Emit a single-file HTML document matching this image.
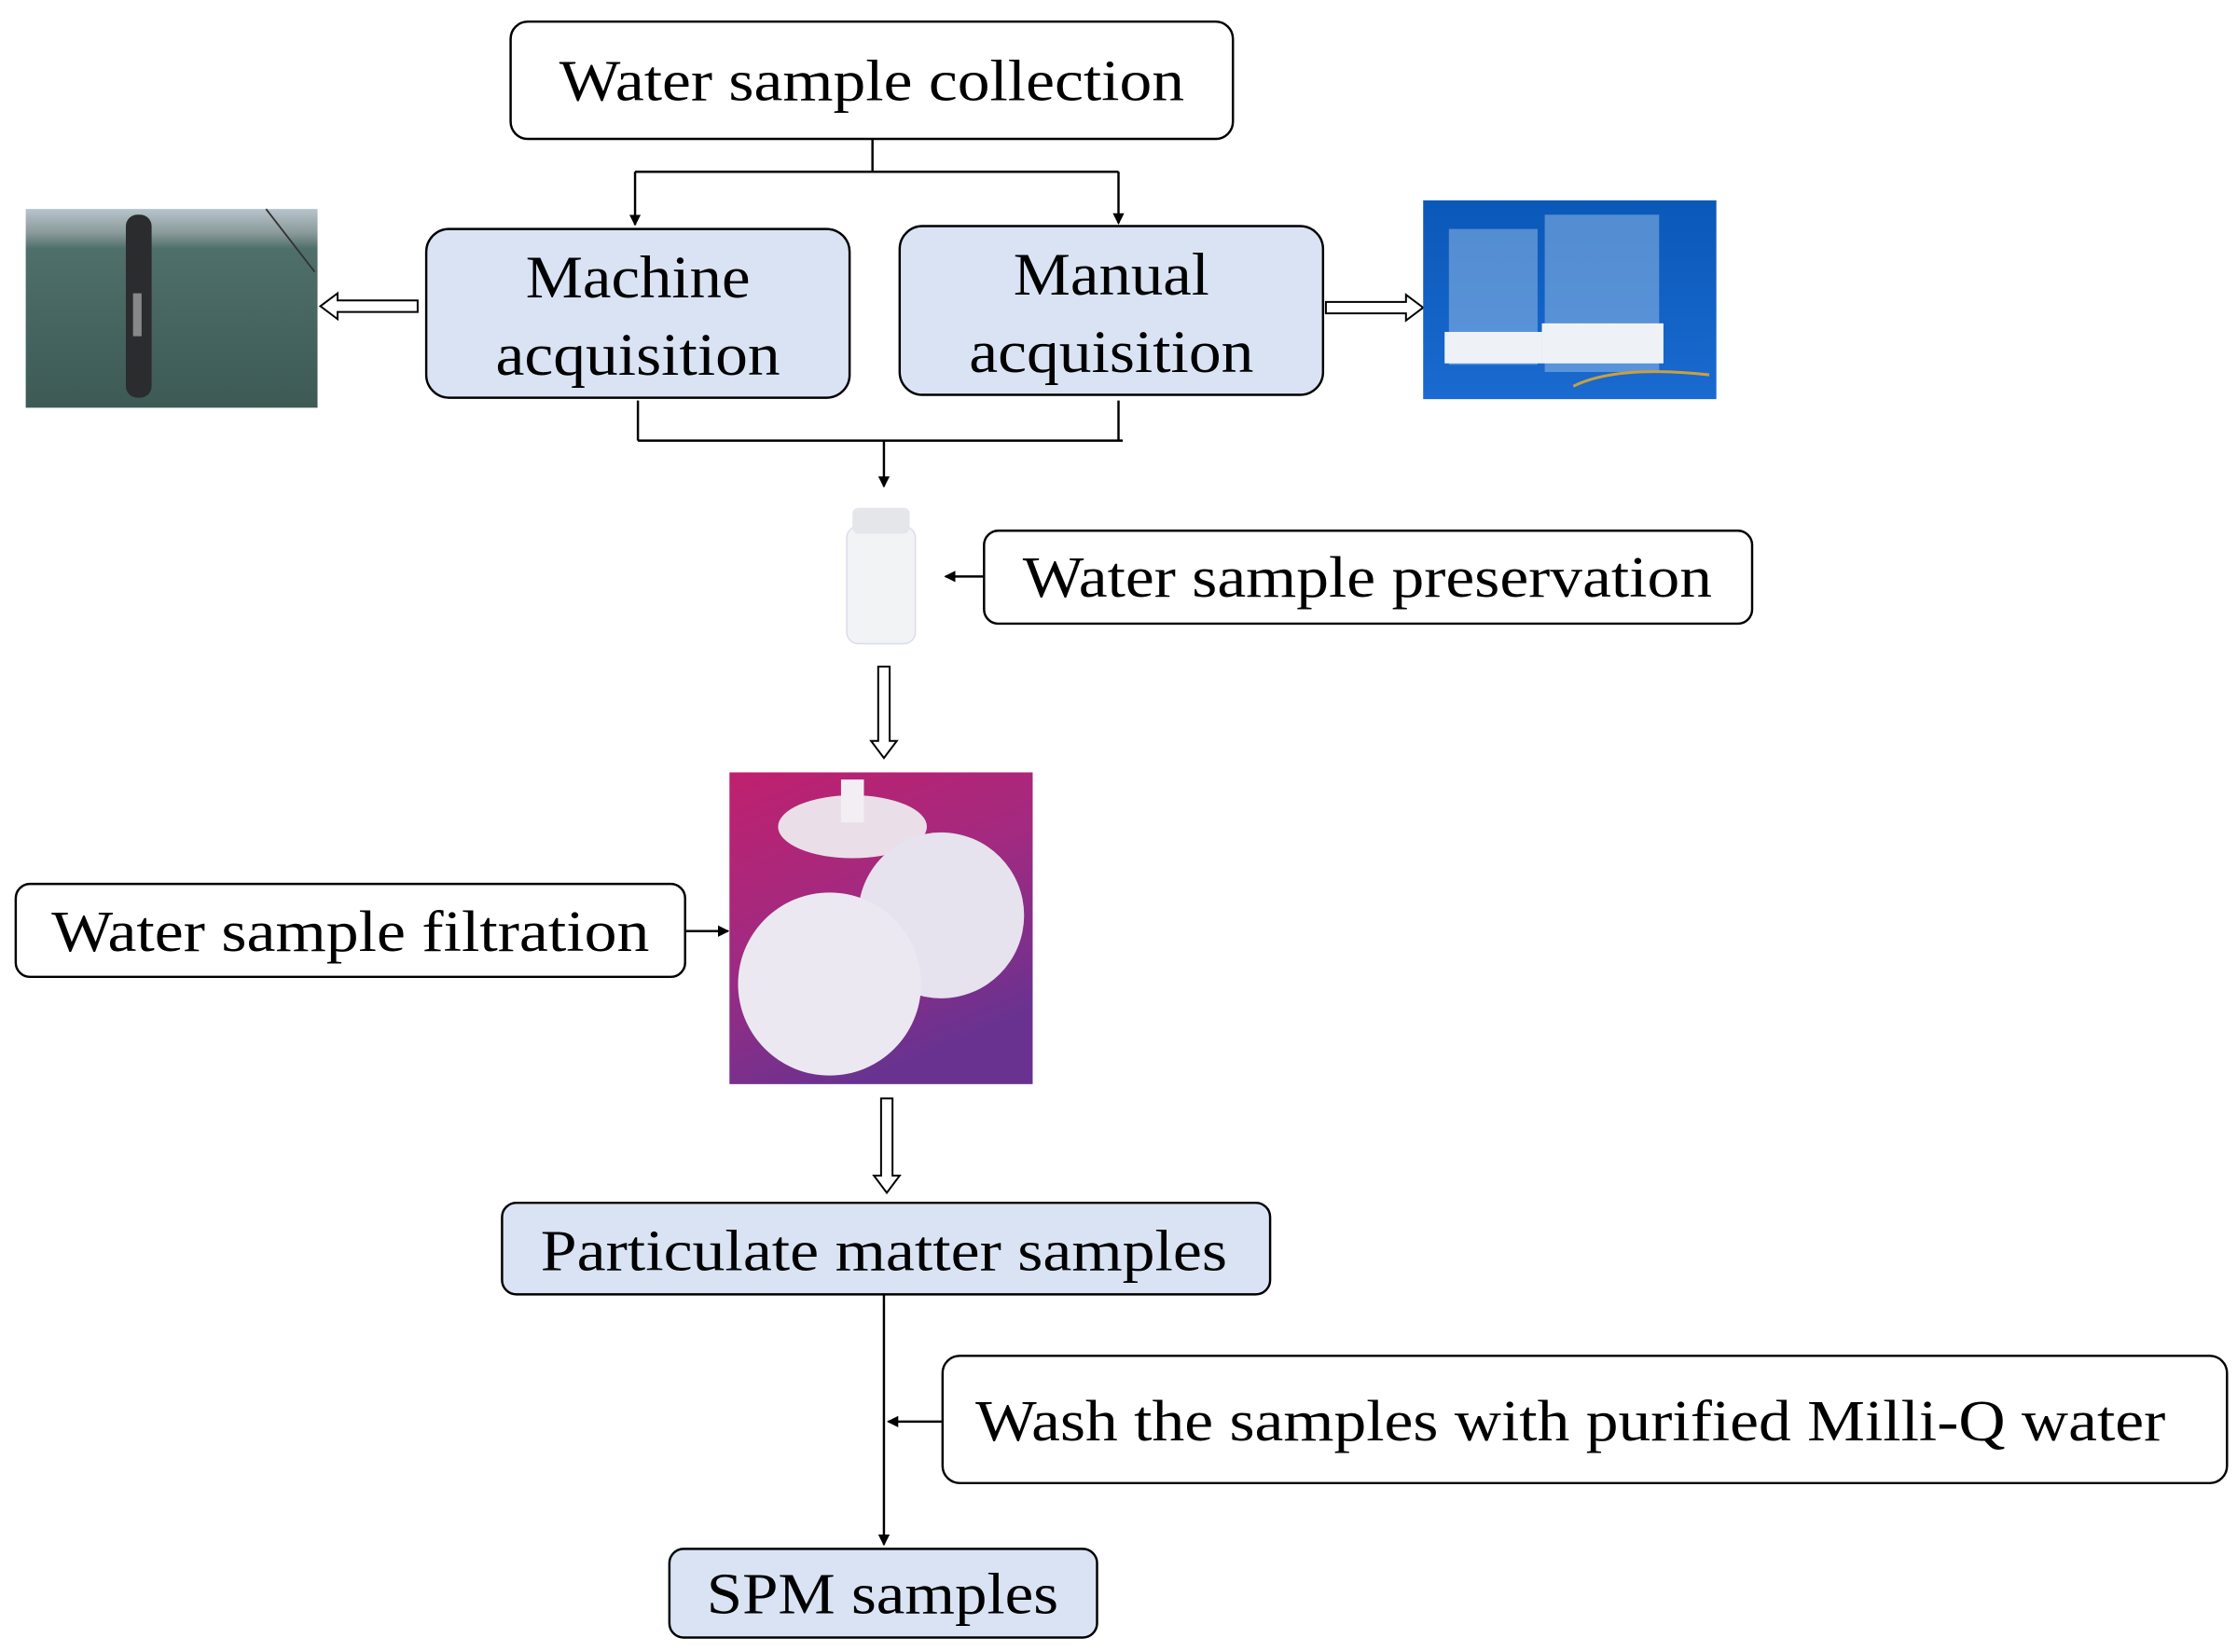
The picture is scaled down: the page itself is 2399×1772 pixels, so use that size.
<!DOCTYPE html>
<html><head><meta charset="utf-8"><style>
html,body{margin:0;padding:0;background:#fff;}
svg{display:block;}
text{font-family:"Liberation Serif",serif;fill:#000;}
</style></head><body>
<svg width="2399" height="1772" viewBox="0 0 1564 1155" xmlns="http://www.w3.org/2000/svg">
<defs>
<marker id="a" markerWidth="8" markerHeight="8" refX="7" refY="4" orient="auto" markerUnits="userSpaceOnUse" viewBox="0 0 8 8"><path d="M0,0 L8,4 L0,8 z" fill="#000"/></marker>
<linearGradient id="sea" x1="0" y1="0" x2="0" y2="1"><stop offset="0" stop-color="#b8c4cc"/><stop offset="0.12" stop-color="#8a9a9a"/><stop offset="0.2" stop-color="#4f6f6a"/><stop offset="1" stop-color="#3d5a55"/></linearGradient>
<linearGradient id="mag" x1="0" y1="0" x2="0.4" y2="1"><stop offset="0" stop-color="#c0206e"/><stop offset="0.5" stop-color="#a22a80"/><stop offset="1" stop-color="#6a3290"/></linearGradient>
<linearGradient id="blu" x1="0" y1="0" x2="0" y2="1"><stop offset="0" stop-color="#0a58b8"/><stop offset="1" stop-color="#1a6ad0"/></linearGradient>
</defs>
<g stroke="#000" stroke-width="1.6">
<rect x="357" y="15" width="505" height="82" rx="12" fill="#fff"/>
<rect x="298" y="160" width="296" height="118" rx="16" fill="#dae3f3"/>
<rect x="629" y="158" width="296" height="118" rx="16" fill="#dae3f3"/>
<rect x="688" y="371" width="537" height="65" rx="10" fill="#fff"/>
<rect x="11" y="618" width="468" height="65" rx="10" fill="#fff"/>
<rect x="351" y="841" width="537" height="64" rx="10" fill="#dae3f3"/>
<rect x="659" y="948" width="898" height="89" rx="12" fill="#fff"/>
<rect x="468" y="1083" width="299" height="62" rx="10" fill="#dae3f3"/>
<g fill="none">
<path d="M610,97 V120 M444,120 H782"/>
<path d="M444,120 V157" marker-end="url(#a)"/>
<path d="M782,120 V156" marker-end="url(#a)"/>
<path d="M446,280 V308 M782,280 V308 M446,308 H785"/>
<path d="M618,308 V340" marker-end="url(#a)"/>
<path d="M688,403 H661" marker-end="url(#a)"/>
<path d="M479,651 H509" marker-end="url(#a)"/>
<path d="M618,905 V1080" marker-end="url(#a)"/>
<path d="M659,994 H621" marker-end="url(#a)"/>
</g>
<g fill="#fff" stroke-width="1.3">
<path d="M292,210 H236 V205 L224,214 L236,223 V218 H292 z"/>
<path d="M927,211 H983 V206 L995,215 L983,224 V219 H927 z"/>
<path d="M614,466 V518 H609 L618,530 L627,518 H622 V466 z"/>
<path d="M616,768 V822 H611 L620,834 L629,822 H624 V768 z"/>
</g>
</g>
<!-- left photo -->
<rect x="18" y="146" width="204" height="139" fill="url(#sea)"/>
<rect x="88" y="150" width="18" height="128" rx="8" fill="#2a2c2e"/>
<rect x="93" y="205" width="6" height="30" fill="#888"/>
<line x1="186" y1="146" x2="220" y2="190" stroke="#333" stroke-width="1.2"/>
<!-- right photo -->
<rect x="995" y="140" width="205" height="139" fill="url(#blu)"/>
<rect x="1013" y="160" width="62" height="95" fill="#9cc0e8" opacity="0.5"/>
<rect x="1080" y="150" width="80" height="110" fill="#9cc0e8" opacity="0.5"/>
<rect x="1010" y="232" width="68" height="22" fill="#eef2f6"/>
<rect x="1078" y="226" width="85" height="28" fill="#eef2f6"/>
<path d="M1100,270 Q1130,255 1195,262" stroke="#c9a040" stroke-width="2" fill="none"/>
<!-- bottle -->
<rect x="592" y="368" width="48" height="82" rx="8" fill="#f1f3f5" stroke="#dde" stroke-width="1"/>
<rect x="596" y="355" width="40" height="18" rx="4" fill="#e4e6ea"/>
<!-- filter photo -->
<rect x="510" y="540" width="212" height="218" fill="url(#mag)"/>
<ellipse cx="596" cy="578" rx="52" ry="22" fill="#eadfe8"/>
<rect x="588" y="545" width="16" height="30" fill="#f3eef3"/>
<circle cx="658" cy="640" r="58" fill="#e6e2ee"/>
<circle cx="580" cy="688" r="64" fill="#ece8f2"/>
<!-- text -->
<text x="609.5" y="70" font-size="41" text-anchor="middle" textLength="437" lengthAdjust="spacingAndGlyphs">Water sample collection</text>
<text x="446" y="208" font-size="42" text-anchor="middle" textLength="157" lengthAdjust="spacingAndGlyphs">Machine</text>
<text x="446" y="262" font-size="42" text-anchor="middle" textLength="199" lengthAdjust="spacingAndGlyphs">acquisition</text>
<text x="777" y="206" font-size="42" text-anchor="middle" textLength="137" lengthAdjust="spacingAndGlyphs">Manual</text>
<text x="777" y="260" font-size="42" text-anchor="middle" textLength="199" lengthAdjust="spacingAndGlyphs">acquisition</text>
<text x="956" y="417" font-size="41" text-anchor="middle" textLength="482" lengthAdjust="spacingAndGlyphs">Water sample preservation</text>
<text x="245" y="665" font-size="41" text-anchor="middle" textLength="418" lengthAdjust="spacingAndGlyphs">Water sample filtration</text>
<text x="618" y="888" font-size="41" text-anchor="middle" textLength="480" lengthAdjust="spacingAndGlyphs">Particulate matter samples</text>
<text x="1098" y="1007" font-size="41" text-anchor="middle" textLength="832" lengthAdjust="spacingAndGlyphs">Wash the samples with purified Milli-Q water</text>
<text x="617" y="1128" font-size="41" text-anchor="middle" textLength="246" lengthAdjust="spacingAndGlyphs">SPM samples</text>
</svg>
</body></html>
